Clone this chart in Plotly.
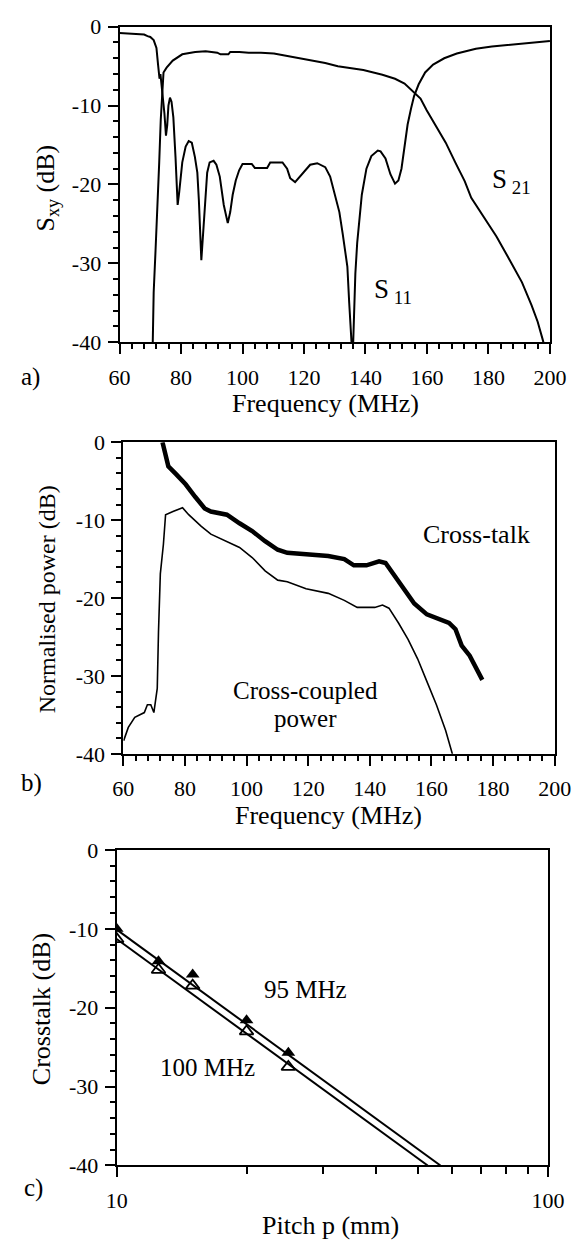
import plotly.graph_objects as go

# ---------------- data: panel a ----------------
s21_freq = [70.8, 71.1, 71.7, 72.4, 72.9, 73.4, 73.9, 74.3, 75.3, 77.3, 80.4, 84.6, 88.0, 91.8, 92.8,
            95.4, 96.0, 99.0, 102.0, 106.0, 110.2, 114.4, 117.5, 120.7, 126.9, 131.0, 135.0, 139.3,
            145.5, 149.6, 152.7, 155.8, 157.9, 159.9, 163.0, 166.1, 169.2, 172.3, 174.4, 178.5,
            182.6, 186.8, 190.9, 194.0, 196.0, 197.6, 198.2]
s21_db = [-40.0, -33.7, -28.4, -22.6, -17.2, -11.8, -7.5, -5.8, -5.2, -4.3, -3.5, -3.2, -3.1, -3.3, -3.5,
          -3.5, -3.2, -3.2, -3.3, -3.3, -3.4, -3.7, -3.9, -4.1, -4.6, -5.0, -5.2, -5.5,
          -6.1, -6.6, -7.2, -8.3, -9.1, -10.6, -12.6, -14.7, -17.2, -19.6, -21.7, -24.2,
          -26.6, -29.5, -32.4, -35.3, -37.4, -39.6, -40.5]

s11_freq = [60.0, 63.0, 66.0, 68.0, 69.1, 70.0, 71.1, 72.0, 72.5, 73.0, 73.3, 73.7, 74.2, 74.6, 75.1,
            75.5, 75.9, 76.4, 76.9, 77.5, 78.2, 78.9, 79.4, 80.4, 81.5, 82.5, 83.5, 84.5, 85.3,
            85.8, 86.6, 87.2, 87.8, 88.5, 89.3, 90.6, 91.5, 92.6, 93.9, 95.2, 96.0, 96.8, 97.8,
            98.9, 100.0, 103.0, 104.0, 108.0, 109.0, 113.0, 114.5, 115.5, 117.1, 119.0, 120.7,
            122.0, 124.3, 126.9, 128.5, 130.0, 131.5, 132.6, 133.5, 134.1, 134.7, 135.2, 135.6,
            136.0, 136.7, 137.3, 138.8, 140.3, 141.9, 144.0, 144.9, 146.5, 148.1, 149.6, 150.7,
            151.7, 152.7, 153.7, 154.8, 155.8, 157.3, 159.4, 162.0, 165.6, 169.7, 175.9, 181.1,
            188.3, 195.6, 200.0]
s11_db = [-0.8, -0.85, -0.9, -1.0, -1.2, -1.3, -1.7, -2.7, -4.7, -6.6, -6.0, -7.5, -10.0, -11.0, -13.8,
          -12.5, -10.0, -9.0, -9.5, -11.5, -16.5, -22.6, -21.0, -17.2, -15.2, -14.5, -14.7, -16.5, -18.5,
          -22.0, -29.6, -26.0, -21.5, -18.5, -17.2, -17.0, -17.5, -19.0, -22.6, -24.9, -23.5, -21.3, -19.5,
          -18.2, -17.4, -17.4, -17.9, -17.9, -17.2, -17.2, -18.0, -19.2, -19.7, -18.8, -18.0,
          -17.5, -17.3, -17.8, -19.0, -21.3, -23.5, -26.3, -28.5, -30.4, -35.0, -40.0, -41.0,
          -40.0, -31.3, -27.4, -21.3, -18.0, -16.4, -15.7, -15.8, -16.7, -18.7, -19.9, -19.5,
          -18.0, -14.9, -12.4, -10.4, -8.8, -7.3, -5.8, -4.8, -4.0, -3.4, -2.8, -2.5,
          -2.2, -1.9, -1.8]

# ---------------- data: panel b ----------------
xtalk_freq = [72.7, 73.5, 74.6, 77.1, 80.2, 83.3, 86.4, 88.4, 93.6, 97.7, 101.8, 106.0, 110.1, 113.2,
              119.3, 126.5, 131.7, 134.8, 138.9, 143.0, 145.1, 148.2, 151.3, 154.4, 158.5, 162.6,
              165.7, 167.8, 169.8, 172.4, 175.0, 176.5]
xtalk_db = [0.0, -1.4, -3.1, -4.1, -5.4, -7.0, -8.5, -8.9, -9.3, -10.4, -11.4, -12.7, -13.8, -14.2,
            -14.4, -14.6, -15.0, -15.8, -15.8, -15.3, -15.5, -17.3, -19.0, -20.7, -22.1, -22.8,
            -23.2, -24.0, -26.1, -27.4, -29.3, -30.5]

ccp_freq = [60.1, 61.6, 63.7, 66.8, 67.8, 68.9, 69.9, 71.0, 71.4, 72.0, 73.0, 73.7, 76.1, 79.2, 81.2,
            85.3, 88.4, 93.6, 97.7, 101.8, 106.0, 110.1, 113.2, 119.3, 126.5, 131.7, 135.9, 141.6,
            144.1, 146.2, 149.3, 152.4, 155.5, 158.5, 161.6, 164.6, 166.7, 167.5]
ccp_db = [-38.3, -36.6, -35.3, -34.7, -33.7, -33.7, -34.7, -31.6, -24.4, -16.9, -13.1, -9.3, -8.9, -8.4, -9.3,
          -10.8, -11.8, -12.7, -13.5, -14.8, -16.5, -17.7, -17.9, -18.8, -19.4, -20.3, -21.2, -21.2,
          -20.9, -21.3, -23.2, -25.3, -27.8, -30.7, -33.7, -37.0, -39.7, -41.0]

# ---------------- data: panel c ----------------
pitch_mm = [10, 12.5, 15, 20, 25]
xt_95 = [-10.0, -14.1, -15.8, -21.6, -25.7]
xt_100 = [-11.3, -15.2, -17.2, -23.0, -27.5]
fit95_pitch = [10, 56.3]
fit95_db = [-10.1, -40.0]
fit100_pitch = [10, 52.6]
fit100_db = [-11.3, -40.0]

db_ticks = [-40, -30, -20, -10, 0]
db_ticktext = ["-40", "-30", "-20", "-10", "0"]

assert len(s21_freq) == len(s21_db)
assert len(s11_freq) == len(s11_db)
assert len(xtalk_freq) == len(xtalk_db)
assert len(ccp_freq) == len(ccp_db)

W, H = 586, 1251
FONT = "Liberation Serif"


def px(x):
    return x / W


def py(y):
    return 1 - y / H


fig = go.Figure()
black = "black"

fig.add_trace(go.Scatter(x=s21_freq, y=s21_db, mode="lines", line=dict(color=black, width=2),
                         xaxis="x", yaxis="y"))
fig.add_trace(go.Scatter(x=s11_freq, y=s11_db, mode="lines", line=dict(color=black, width=2),
                         xaxis="x", yaxis="y"))

fig.add_trace(go.Scatter(x=ccp_freq, y=ccp_db, mode="lines", line=dict(color=black, width=1.6),
                         xaxis="x2", yaxis="y2"))
fig.add_trace(go.Scatter(x=xtalk_freq, y=xtalk_db, mode="lines", line=dict(color=black, width=4.5),
                         xaxis="x2", yaxis="y2"))

fig.add_trace(go.Scatter(x=fit95_pitch, y=fit95_db, mode="lines", line=dict(color=black, width=2),
                         xaxis="x3", yaxis="y3"))
fig.add_trace(go.Scatter(x=fit100_pitch, y=fit100_db, mode="lines", line=dict(color=black, width=2),
                         xaxis="x3", yaxis="y3"))
fig.add_trace(go.Scatter(x=pitch_mm, y=xt_100, mode="markers",
                         marker=dict(symbol="triangle-up-open", size=12, color=black,
                                     line=dict(width=1.8, color=black)),
                         xaxis="x3", yaxis="y3"))
fig.add_trace(go.Scatter(x=pitch_mm, y=xt_95, mode="markers",
                         marker=dict(symbol="triangle-up", size=12, color=black),
                         xaxis="x3", yaxis="y3"))

tickfont = dict(family=FONT, size=22, color=black)

common = dict(showline=True, linecolor=black, linewidth=2, mirror=True, showgrid=False,
              zeroline=False, ticks="outside", ticklen=10, tickwidth=2, tickcolor=black,
              tickfont=tickfont)


def yax(domain):
    return dict(domain=domain, range=[-40, 0], tickmode="array", tickvals=db_ticks,
                ticktext=db_ticktext, ticklabelstandoff=2,
                minor=dict(ticks="outside", ticklen=5, tickwidth=2, tickcolor=black, dtick=2,
                           tick0=0, showgrid=False), **common)


def xlin(domain, anchor):
    return dict(domain=domain, anchor=anchor, range=[60, 200], tickmode="linear", tick0=60,
                dtick=20, ticklabelstandoff=4,
                minor=dict(ticks="outside", ticklen=5, tickwidth=2, tickcolor=black, dtick=4,
                           tick0=60, showgrid=False), **common)


fig.update_layout(
    width=W, height=H, margin=dict(l=0, r=0, t=0, b=0),
    paper_bgcolor="white", plot_bgcolor="white", showlegend=False,
    font=dict(family=FONT, color=black),
    xaxis=xlin([px(114), px(566)], "y"),
    yaxis=yax([py(337), py(15)]) | dict(anchor="x"),
    xaxis2=xlin([px(118), px(571)], "y2"),
    yaxis2=yax([py(757), py(439)]) | dict(anchor="x2"),
    xaxis3=dict(domain=[px(111), px(564)], anchor="y3", type="log", range=[1, 2],
                tickmode="array", tickvals=[10, 100], ticktext=["10", "100"], ticklabelstandoff=4,
                minor=dict(ticks="outside", ticklen=7, tickwidth=2, tickcolor=black,
                           tickmode="array", tickvals=[20, 30, 40, 50, 60, 70, 80, 90],
                           showgrid=False), **common),
    yaxis3=yax([py(1177), py(855)]) | dict(anchor="x3"),
)

ann = []


def text(x, y, s, size=24, angle=0, xanchor="center", yanchor="middle"):
    ann.append(dict(x=px(x), y=py(y), xref="paper", yref="paper", text=s, showarrow=False,
                    textangle=angle, xanchor=xanchor, yanchor=yanchor,
                    font=dict(family=FONT, size=size, color=black)))


# panel a
text(38, 180, "S<sub>xy</sub> (dB)", size=26, angle=-90)
text(330, 399, "Frequency (MHz)", size=26)
text(20, 372, "a)", size=25)
text(503, 172, "S<sub> 21</sub>", size=27, xanchor="left")
text(379, 285, "S<sub> 11</sub>", size=27, xanchor="left")

# panel b
text(38, 599, "Normalised power (dB)", size=24, angle=-90)
text(333, 820, "Frequency (MHz)", size=26)
text(22, 787, "b)", size=25)
text(489, 533, "Cross-talk", size=26)
text(309, 692, "Cross-coupled", size=25)
text(309, 721, "power", size=25)

# panel c
text(32, 1017, "Crosstalk (dB)", size=26, angle=-90)
text(336, 1238, "Pitch p (mm)", size=26)
text(24, 1200, "c)", size=25)
text(309, 997, "95 MHz", size=25)
text(206, 1077, "100 MHz", size=25)

fig.update_layout(annotations=ann)

fig.write_html("out.html")
